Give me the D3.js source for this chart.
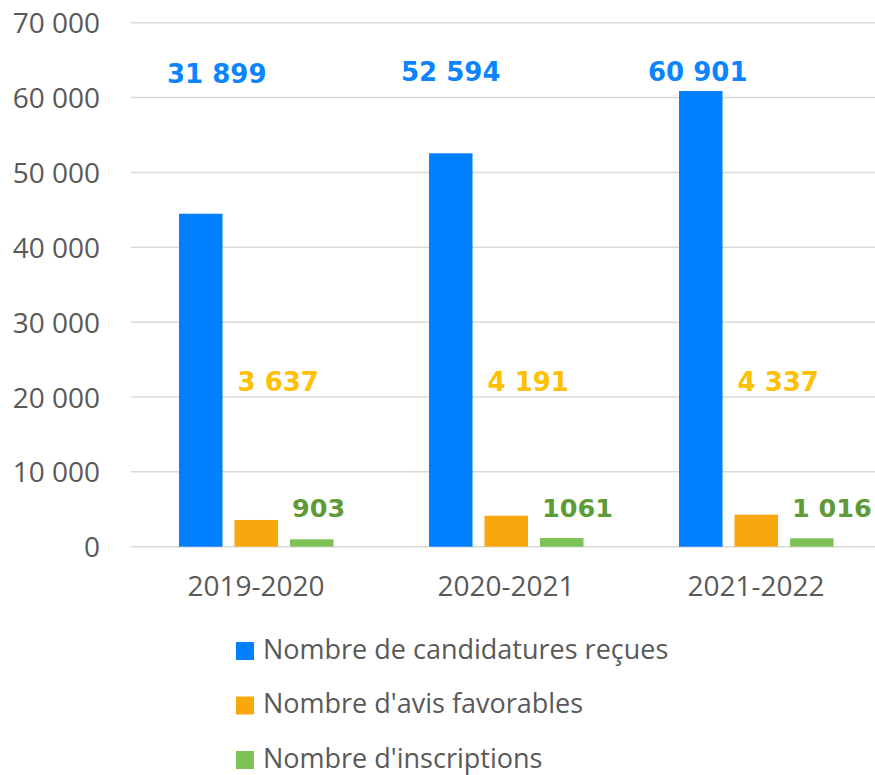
<!DOCTYPE html>
<html>
<head>
<meta charset="utf-8">
<script src="https://cdn.jsdelivr.net/npm/d3@7"></script>
<style>
	body { margin: 0; background: #fff; }
	svg { display: block; }
</style>
</head>
<body>
<svg id="chart"></svg>
<script>
	'use strict';

	var categories = ['2019-2020', '2020-2021', '2021-2022'];
	var seriesNames = ['Nombre de candidatures reçues', "Nombre d'avis favorables", "Nombre d'inscriptions"];
	// bar heights as drawn in the picture
	var candidatures = [44480, 52550, 60870];
	var avisFavorables = [3570, 4140, 4280];
	var inscriptions = [990, 1160, 1120];
	// labels printed on the picture
	var candidaturesLabels = ['31 899', '52 594', '60 901'];
	var avisLabels = ['3 637', '4 191', '4 337'];
	var inscriptionsLabels = ['903', '1061', '1 016'];
	var yTicks = [0, 10000, 20000, 30000, 40000, 50000, 60000, 70000];

	var width = 875, height = 775;
	var margin = {top: 22.7, left: 131, bottom: 228.3};
	var barColors = ['#0080ff', '#f8a80c', '#7dc256'];
	var labelColors = ['#0a84ff', '#ffc000', '#5d9b38'];

	var svg = d3.select('#chart')
		.attr('width', width)
		.attr('height', height);

	var x = d3.scaleBand()
		.domain(categories)
		.range([margin.left, margin.left + 750]);

	var xs = d3.scaleBand()
		.domain([0, 1, 2])
		.range([48, 202.5])
		.paddingInner(0.216);

	var y = d3.scaleLinear()
		.domain([0, 70000])
		.range([height - margin.bottom, margin.top]);

	// gridlines
	svg.append('g')
		.selectAll('line')
		.data(yTicks)
		.join('line')
		.attr('x1', margin.left)
		.attr('x2', width)
		.attr('y1', function (d) { return y(d); })
		.attr('y2', function (d) { return y(d); })
		.attr('stroke', '#d9d9d9')
		.attr('stroke-width', 1.5);

	// y axis labels
	var yAxis = d3.axisLeft(y)
		.tickValues(yTicks)
		.tickSize(0)
		.tickPadding(0)
		.tickFormat(function (d) { return d3.format(',')(d).replace(/,/g, ' '); });

	svg.append('g')
		.attr('transform', 'translate(100,0)')
		.call(yAxis)
		.call(function (g) {
			g.select('.domain').remove();
			g.selectAll('text')
				.attr('fill', '#595959')
				.attr('font-family', 'Open Sans, sans-serif')
				.attr('font-size', 28)
				.attr('dy', '0.36em');
		});

	// x axis labels
	var xAxis = d3.axisBottom(x).tickSize(0).tickPadding(0);
	svg.append('g')
		.attr('transform', 'translate(0,' + y(0) + ')')
		.call(xAxis)
		.call(function (g) {
			g.select('.domain').remove();
			g.selectAll('text')
				.attr('fill', '#595959')
				.attr('font-family', 'Open Sans, sans-serif')
				.attr('font-size', 28)
				.attr('dy', 0)
				.attr('y', 49.5);
		});

	var seriesValues = [candidatures, avisFavorables, inscriptions];

	seriesValues.forEach(function (values, s) {
		svg.append('g')
			.selectAll('rect')
			.data(values)
			.join('rect')
			.attr('x', function (d, i) { return x(categories[i]) + xs(s); })
			.attr('y', function (d) { return y(d); })
			.attr('width', xs.bandwidth())
			.attr('height', function (d) { return y(0) - y(d); })
			.attr('fill', barColors[s]);
	});

	// value labels (placed as in the original, not tied to bar tops)
	var blueNudge = [16, 0, -3];
	svg.append('g')
		.selectAll('text')
		.data(candidaturesLabels)
		.join('text')
		.attr('x', function (d, i) { return x(categories[i]) + xs(0) + xs.bandwidth() / 2 + blueNudge[i]; })
		.attr('y', function (d, i) { return i === 0 ? 83 : 80.5; })
		.attr('text-anchor', 'middle')
		.attr('fill', labelColors[0])
		.attr('font-family', 'DejaVu Sans, Verdana, sans-serif')
		.attr('font-weight', 'bold')
		.attr('font-size', 26)
		.text(function (d) { return d; });

	svg.append('g')
		.selectAll('text')
		.data(avisLabels)
		.join('text')
		.attr('x', function (d, i) { return x(categories[i]) + xs(1) + 3; })
		.attr('y', 391)
		.attr('fill', labelColors[1])
		.attr('font-family', 'DejaVu Sans, Verdana, sans-serif')
		.attr('font-weight', 'bold')
		.attr('font-size', 26)
		.text(function (d) { return d; });

	svg.append('g')
		.selectAll('text')
		.data(inscriptionsLabels)
		.join('text')
		.attr('x', function (d, i) { return x(categories[i]) + xs(2) + 2; })
		.attr('y', 517)
		.attr('fill', labelColors[2])
		.attr('font-family', 'DejaVu Sans, Verdana, sans-serif')
		.attr('font-weight', 'bold')
		.attr('font-size', 25.5)
		.text(function (d) { return d; });

	// legend
	var legend = svg.append('g')
		.attr('transform', 'translate(236,642)');

	var item = legend.selectAll('g')
		.data(seriesNames)
		.join('g')
		.attr('transform', function (d, i) { return 'translate(0,' + (i * 54.5) + ')'; });

	item.append('rect')
		.attr('width', 18)
		.attr('height', 18)
		.attr('fill', function (d, i) { return barColors[i]; });

	item.append('text')
		.attr('x', 27)
		.attr('y', 16.5)
		.attr('fill', '#595959')
		.attr('font-family', 'Open Sans, sans-serif')
		.attr('font-size', 27)
		.text(function (d) { return d; });
</script>
</body>
</html>
